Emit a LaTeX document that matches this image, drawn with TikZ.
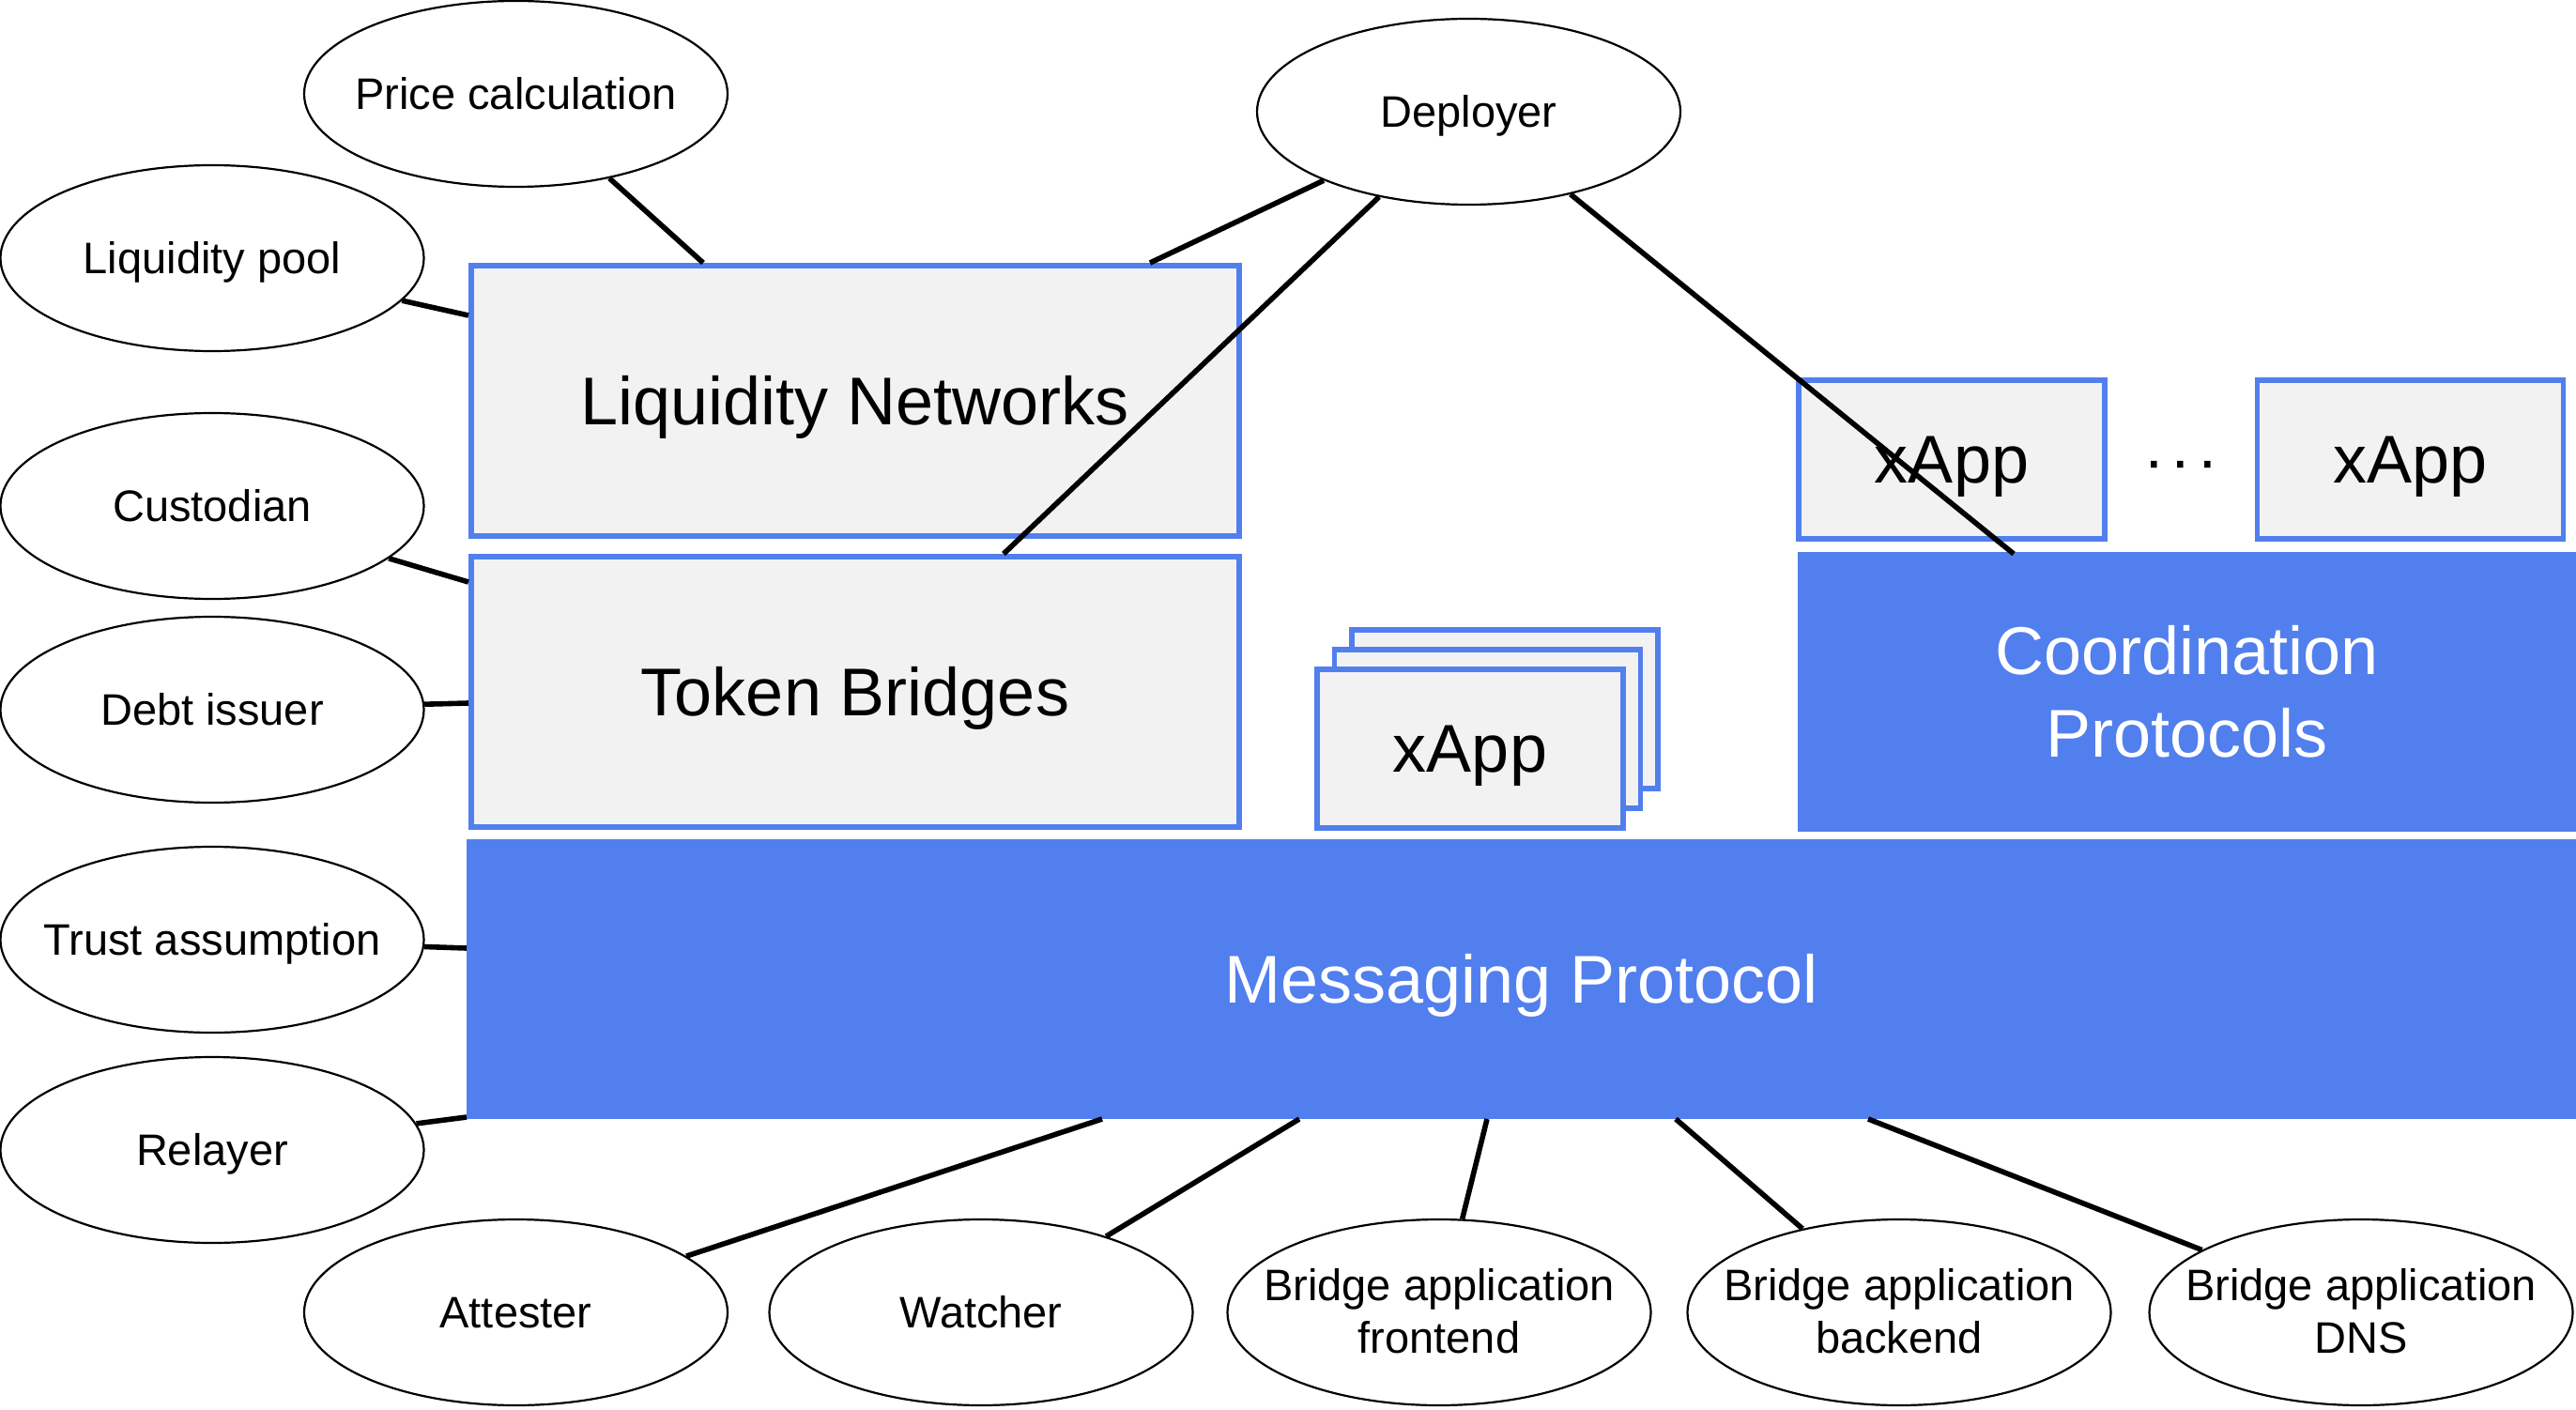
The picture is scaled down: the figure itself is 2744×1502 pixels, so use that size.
\documentclass[tikz,border=0pt]{standalone}
\usepackage{fontspec}
\setmainfont{Liberation Sans}
\usetikzlibrary{shapes.geometric}
\definecolor{mblue}{HTML}{527FEE}
\definecolor{mgrey}{HTML}{F2F2F2}
\newcommand\nowd[1]{\makebox[0pt][c]{#1}}
\newcommand\twoln[2]{\raisebox{-8.4pt}[0pt][0pt]{\makebox[0pt][c]{\begin{tabular}{@{}c@{}}#1\\#2\end{tabular}}}}
\begin{document}
\begin{tikzpicture}[x=0.5pt,y=-0.5pt,
  bigline/.style={text height=32.6pt,text depth=7.6pt},
  smallline/.style={text height=21.3pt,text depth=5pt},
  greybox/.style={draw=mblue,fill=mgrey,line width=2.8pt,minimum width=409pt,minimum height=144pt,inner sep=0pt,font=\fontsize{36}{43}\selectfont,bigline},
  xappbox/.style={draw=mblue,fill=mgrey,line width=2.8pt,minimum width=163pt,minimum height=84.5pt,inner sep=0pt,font=\fontsize{36}{43}\selectfont,bigline},
  bluebox/.style={fill=mblue,text=white,inner sep=0pt,align=center,font=\fontsize{36}{43.75}\selectfont},
  role/.style={ellipse,draw=black,line width=1.1pt,fill=white,minimum width=225.5pt,minimum height=99pt,inner sep=0pt,font=\fontsize{23.5}{28}\selectfont},
  role1/.style={role,smallline},
  link/.style={line width=2.8pt}]
\useasboundingbox (0,0) rectangle (2744,1502);

% boxes
\node[greybox] (ln) at (911,427) {Liquidity Networks};
\node[greybox] (tb) at (911,737) {Token Bridges};
\node[bluebox,minimum width=1123.5pt,minimum height=149pt,bigline] (mp) at (1620.5,1043) {Messaging Protocol};
\node[bluebox,minimum width=414.5pt,minimum height=149pt] (cp) at (2329.5,737) {Coordination\\Protocols};
\node[xappbox] (xa1) at (2079,489.5) {xApp};
\node[xappbox] (xa2) at (2567.5,489.5) {xApp};
\node[font=\fontsize{34}{40}\selectfont,inner sep=0pt] (dots) at (2323,502) {·\kern3pt·\kern3pt·};
\node[xappbox] (xs3) at (1603,755.5) {};
\node[xappbox] (xs2) at (1584.5,776.5) {};
\node[xappbox] (xs1) at (1566,797.5) {xApp};

% ellipses
\node[role1] (price) at (549.5,100) {\nowd{Price calculation}};
\node[role1] (pool) at (226,275) {\nowd{Liquidity pool}};
\node[role1] (cust) at (226,539) {\nowd{Custodian}};
\node[role1] (debt) at (226,756) {\nowd{Debt issuer}};
\node[role1] (trust) at (226,1001) {\nowd{Trust assumption}};
\node[role1] (relay) at (226,1225) {\nowd{Relayer}};
\node[role1] (dep) at (1564.5,119) {\nowd{Deployer}};
\node[role1] (att) at (549.5,1398) {\nowd{Attester}};
\node[role1] (watch) at (1045,1398) {\nowd{Watcher}};
\node[role] (front) at (1533,1398) {\twoln{Bridge application}{frontend}};
\node[role] (back) at (2023,1398) {\twoln{Bridge application}{backend}};
\node[role] (dns) at (2515,1398) {\twoln{Bridge application}{DNS}};

% connector end points on the boxes
\coordinate (cLN1) at (749,280);
\coordinate (cLN2) at (499,336);
\coordinate (cLN3) at (1225,280);
\coordinate (cTB1) at (1069,590);
\coordinate (cTB2) at (499,620);
\coordinate (cTB3) at (499,749);
\coordinate (cCP) at (2145,590);
\coordinate (cMP1) at (497,1010);
\coordinate (cMP2) at (497,1190);
\coordinate (cMP3) at (1174,1192);
\coordinate (cMP4) at (1384,1192);
\coordinate (cMP5) at (1584,1192);
\coordinate (cMP6) at (1785,1192);
\coordinate (cMP7) at (1990,1192);

% connectors
\draw[link] (price) -- (cLN1);
\draw[link] (pool) -- (cLN2);
\draw[link] (dep) -- (cLN3);
\draw[link] (dep) -- (cTB1);
\draw[link] (dep) -- (cCP);
\draw[link] (cust) -- (cTB2);
\draw[link] (debt) -- (cTB3);
\draw[link] (trust) -- (cMP1);
\draw[link] (relay) -- (cMP2);
\draw[link] (att) -- (cMP3);
\draw[link] (watch) -- (cMP4);
\draw[link] (front) -- (cMP5);
\draw[link] (back) -- (cMP6);
\draw[link] (dns) -- (cMP7);
\end{tikzpicture}
\end{document}
